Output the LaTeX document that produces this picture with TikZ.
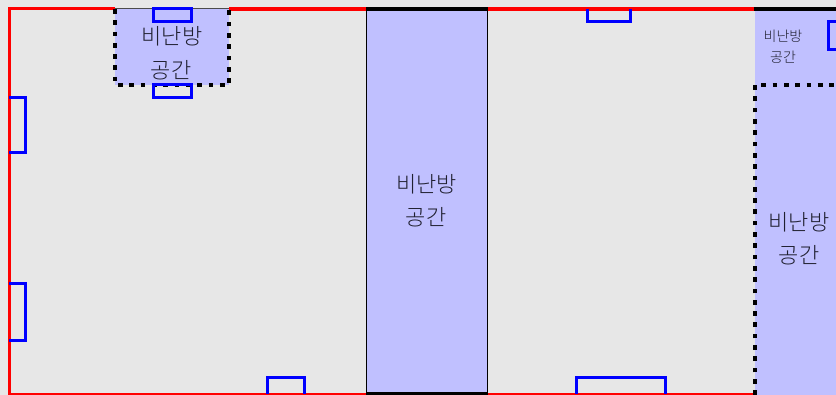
\documentclass[tikz,border=0pt]{standalone}
\usepackage{fontspec}
\setmainfont{Noto Sans CJK KR Light}
\definecolor{bgc}{HTML}{E7E7E7}
\definecolor{roomc}{HTML}{C0C0FF}
\definecolor{txtc}{HTML}{202030}
\tikzset{
  wallr/.style={draw=red,line width=4pt},
  wallk/.style={draw=black,line width=4pt},
  win/.style={draw=blue,line width=3pt},
  dots/.style={draw=black,line width=3.5pt,dash pattern=on 4.7pt off 6.6pt},
  big/.style={font=\fontsize{22}{22}\selectfont,text=txtc,inner sep=0pt,anchor=center},
  small/.style={font=\fontsize{14}{14}\selectfont,text=txtc,inner sep=0pt,anchor=center},
}
\begin{document}
\begin{tikzpicture}[x=1pt,y=-1pt]
\useasboundingbox (0,0) rectangle (836,395);
\fill[bgc] (0,0) rectangle (836,395);
% rooms
\fill[roomc] (115,9) rectangle (229,85);
\fill[roomc] (366,9) rectangle (487,394);
\fill[roomc] (755,9) rectangle (836,395);
% walls
\draw[draw=red,line width=3pt] (9.5,395) -- (9.5,9) -- (115,9);
\draw[draw=black!70,line width=1pt] (115,8.5) -- (229,8.5);
\draw[wallr] (229,9) -- (366,9);
\draw[wallk] (366,9) -- (488,9);
\draw[wallr] (488,9) -- (754,9);
\draw[wallk] (754,9) -- (836,9);
\draw[draw=red,line width=2.5pt] (9,394.5) -- (366,394.5);
\draw[wallk] (366,394.5) -- (488,394.5);
\draw[draw=red,line width=2.5pt] (488,394.5) -- (754,394.5);
% middle room sides
\draw[draw=black,line width=1.6pt] (366.5,9) -- (366.5,394);
\draw[draw=black,line width=1.6pt] (487.5,9) -- (487.5,394);
% dotted
\draw[dots] (115,9) -- (115,85) -- (229,85) -- (229,9);
\draw[dots] (755,395) -- (755,85) -- (836,85);
% windows
\draw[win] (153.5,9) rectangle (191,21.5);
\draw[win] (153.5,85) rectangle (191,98);
\draw[win] (9,98) -- (25.5,98) -- (25.5,152.5) -- (9,152.5);
\draw[win] (9,284) -- (25.5,284) -- (25.5,341) -- (9,341);
\draw[win] (267.5,394) -- (267.5,377.5) -- (304.5,377.5) -- (304.5,394);
\draw[win] (576.5,394) -- (576.5,377.5) -- (665,377.5) -- (665,394);
\draw[win] (587.5,9) -- (587.5,21.5) -- (630.5,21.5) -- (630.5,9);
\draw[win] (838,21.5) -- (828,21.5) -- (828,50) -- (838,50);
% labels
\node[big] (a1) at (172,36) {비난방};
\node[big] (a2) at (171,70) {공간};
\node[big] (b1) at (426.5,184) {비난방};
\node[big] (b2) at (426,217) {공간};
\node[big] (c1) at (799,222) {비난방};
\node[big] (c2) at (799,255) {공간};
\node[small] (d1) at (783,36) {비난방};
\node[small] (d2) at (783,57) {공간};
\end{tikzpicture}
\end{document}
